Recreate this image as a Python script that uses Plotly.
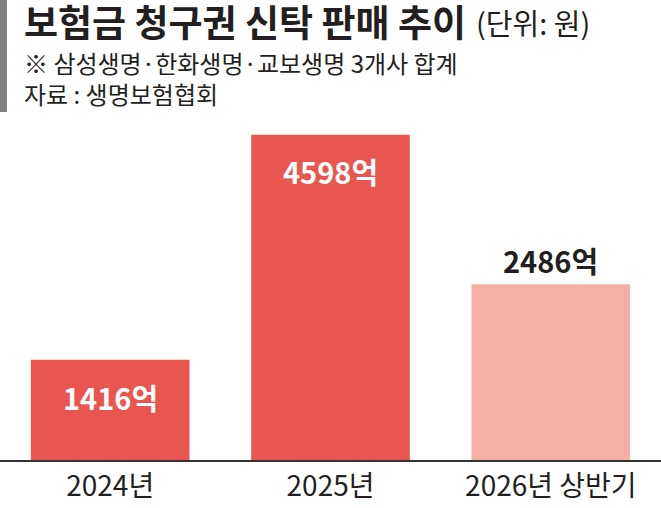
import plotly.graph_objects as go

# ---- data ----
categories = ["2024년", "2025년", "2026년 상반기"]
values = [1416, 4598, 2486]            # 억 원
value_labels = ["1416억", "4598억", "2486억"]

title_text = "보험금 청구권 신탁 판매 추이"
unit_text = "(단위: 원)"
note_text = "※ 삼성생명·한화생명·교보생명 3개사 합계"
source_text = "자료 : 생명보험협회"

# ---- styles ----
FONT = "Noto Sans CJK KR"
DARK = "#231f20"
bar_colors = ["#e9554f", "#e9554f", "#f4b1a3"]
label_colors = ["white", "white", DARK]
label_shift = [-37, -36, 24]

W, H = 661, 508
M_T, M_B = 120, 48
PH = H - M_T - M_B

def py(px):
    """pixel row -> paper y"""
    return (H - M_B - px) / PH

fig = go.Figure()
fig.add_trace(go.Bar(
    x=categories, y=values,
    marker=dict(color=bar_colors, line=dict(width=0)),
    width=0.72,
    hoverinfo="skip",
))

for c, v, t, col, s in zip(categories, values, value_labels, label_colors, label_shift):
    fig.add_annotation(
        x=c, y=v, text=f"<b>{t}</b>", showarrow=False,
        yshift=s, xanchor="center", yanchor="middle",
        font=dict(family=FONT, size=29, color=col),
    )

fig.add_annotation(
    xref="paper", yref="paper", x=22 / W, y=py(21), xanchor="left", yanchor="middle",
    text=f"<b>{title_text}</b>", height=40,
    showarrow=False, font=dict(family=FONT, size=37, color=DARK),
)
fig.add_annotation(
    xref="paper", yref="paper", x=474 / W, y=py(22), xanchor="left", yanchor="middle",
    text=unit_text, height=36,
    showarrow=False, font=dict(family=FONT, size=29, color=DARK),
)
fig.add_annotation(
    xref="paper", yref="paper", x=22 / W, y=py(77.5), xanchor="left", yanchor="middle",
    text=f"{note_text}<br>{source_text}", align="left",
    showarrow=False, font=dict(family=FONT, size=24, color=DARK),
)

fig.add_shape(
    type="rect", xref="paper", yref="paper",
    x0=0, x1=7 / W, y0=py(112), y1=py(0),
    fillcolor="#7f7f7f", line=dict(width=0), layer="above",
)

fig.update_layout(
    width=W, height=H,
    margin=dict(l=0, r=0, t=M_T, b=M_B, pad=0),
    paper_bgcolor="white", plot_bgcolor="white",
    showlegend=False,
    font=dict(family=FONT, color=DARK),
    xaxis=dict(
        range=[-0.5, 2.5], showgrid=False, zeroline=False,
        showline=True, linecolor="#333333", linewidth=2,
        ticks="", tickfont=dict(family=FONT, size=28, color=DARK),
        fixedrange=True,
    ),
    yaxis=dict(
        range=[0, 4806], visible=False, showgrid=False, zeroline=False,
        fixedrange=True,
    ),
)

fig.write_html(
    "out.html",
    config={"displayModeBar": False},
    post_script="document.body.style.margin='0';",
)
